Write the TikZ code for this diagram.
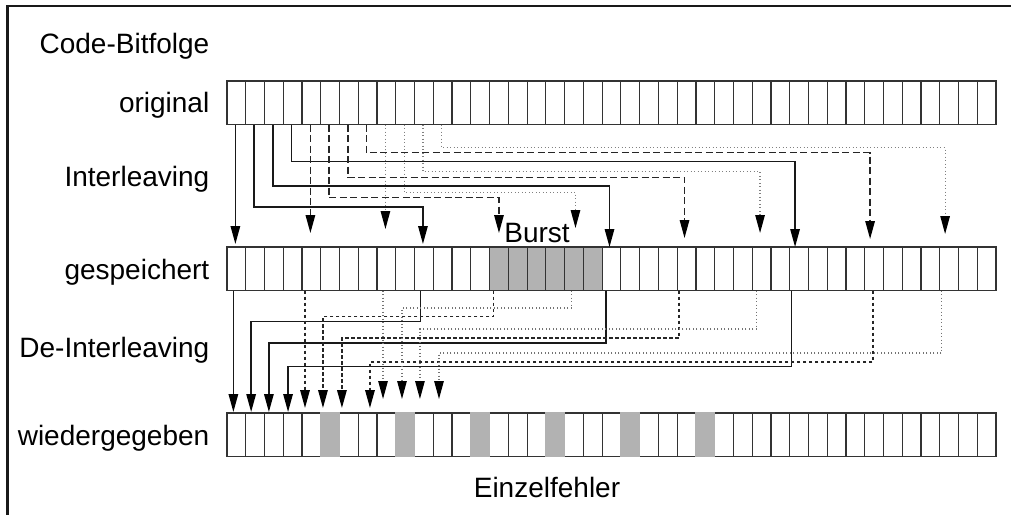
\documentclass[tikz,border=0pt]{standalone}
\usepackage{fontspec}
\setmainfont{Liberation Sans}
\usetikzlibrary{arrows.meta}
\newcommand\linkbits[7]{%
  \coordinate (S) at ([xshift=#3pt]#2.south);
  \coordinate (T) at ([xshift=#6pt]#5.north);
  \draw[#1] (S) |- (T |- 0,#4) -- ([yshift=#7pt]T);
}
\begin{document}
\begin{tikzpicture}[x=1pt,y=-1pt,
  cell/.style={draw=black!80,line width=1.2pt,fill=white,minimum width=18.756pt,minimum height=43.5pt,inner sep=0pt,outer sep=0pt},
  hit/.style={cell,fill=black!30},
  err/.style={cell,fill=black!30,draw=black!30},
  lbl/.style={font=\fontsize{28}{32}\selectfont,inner sep=0pt,anchor=base east},
  arr/.style={-{Triangle[length=18pt,width=9.5pt,color=black]}},
  sol/.style={arr,line width=1.4pt,draw=black!90},
  dsh/.style={arr,line width=1.4pt,draw=black!85,dash pattern=on 7pt off 3.5pt},
  dot/.style={arr,line width=1.2pt,draw=black!50,dash pattern=on 1pt off 2.5pt},
  dshb/.style={arr,line width=1.6pt,draw=black!85,dash pattern=on 3.5pt off 2.5pt},
  dotb/.style={arr,line width=1.2pt,draw=black!55,dash pattern=on 1pt off 2.5pt},
]
\useasboundingbox (0,0) rectangle (1011,515);
\fill[white] (0,0) rectangle (1011,515);
\draw[line width=2.5pt,black!90] (1011,6) -- (7.5,6) -- (7.5,515);

\foreach \i in {0,...,40}{
  \node[cell] (o\i) at ({227+(\i+0.5)*18.756},102.75) {};
  \node[cell] (g\i) at ({227+(\i+0.5)*18.756},268.75) {};
  \node[cell] (w\i) at ({227+(\i+0.5)*18.756},434.75) {};
}
\foreach \i in {14,...,19}{ \node[hit] (b\i) at (g\i) {}; }
\foreach \i in {5,9,13,17,21,25}{ \node[err] (e\i) at (w\i) {}; }

% labels
\node[lbl] (l1) at (209.5,53) {Code-Bitfolge};
\node[lbl] (l2) at (209.5,112.75) {original};
\node[lbl] (l3) at (209.5,186) {Interleaving};
\node[lbl] (l4) at (209.5,279) {gespeichert};
\node[lbl] (l5) at (209.5,357) {De-Interleaving};
\node[lbl] (l6) at (209.5,445) {wiedergegeben};
\node[lbl,anchor=base] (l7) at (547,497) {Einzelfehler};
\node[lbl,anchor=base] (bu) at (537,242) {Burst};

% interleaving
\linkbits{sol}{o0}{-1}{150}{g0}{-1}{3}
\linkbits{sol}{o1}{-1}{207}{g10}{-1}{3}
\linkbits{sol}{o2}{-1}{186}{g20}{-2}{0}
\linkbits{sol}{o3}{-1}{161.7}{g30}{-4}{0}
\linkbits{dsh}{o4}{-1}{150}{g4}{-1}{14}
\linkbits{dsh}{o5}{-1}{197.7}{g14}{0}{14}
\linkbits{dsh}{o6}{-1}{177.3}{g24}{-2}{9}
\linkbits{dsh}{o7}{-1}{152.7}{g34}{-4}{8}
\linkbits{dot}{o8}{-1}{150}{g8}{-1}{18}
\linkbits{dot}{o9}{-1}{192.3}{g18}{1.5}{19}
\linkbits{dot}{o10}{-1}{171.7}{g28}{-1.5}{14}
\linkbits{dot}{o11}{-1}{147.7}{g38}{-4}{13}

% de-interleaving
\linkbits{sol}{g0}{-3}{300}{w0}{-3}{1}
\linkbits{sol}{g10}{-3.4}{321.7}{w1}{-4}{1}
\linkbits{sol}{g20}{-5.5}{343}{w2}{-5}{1}
\linkbits{sol}{g30}{-7.3}{366.7}{w3}{-4.6}{1}
\linkbits{dshb}{g4}{-6.4}{300}{w4}{-6.4}{5}
\linkbits{dshb}{g14}{-5.6}{316.5}{w5}{-7.2}{5}
\linkbits{dshb}{g24}{-7.5}{338}{w6}{-7}{5}
\linkbits{dshb}{g34}{-1.3}{362}{w7}{2.3}{5}
\linkbits{dotb}{g8}{-3.4}{300}{w8}{-3.4}{14}
\linkbits{dotb}{g18}{-2.3}{308}{w9}{-3.2}{14}
\linkbits{dotb}{g28}{-4.8}{329}{w10}{-4}{14}
\linkbits{dotb}{g38}{-7.3}{353}{w11}{-3.7}{14}
\end{tikzpicture}
\end{document}
